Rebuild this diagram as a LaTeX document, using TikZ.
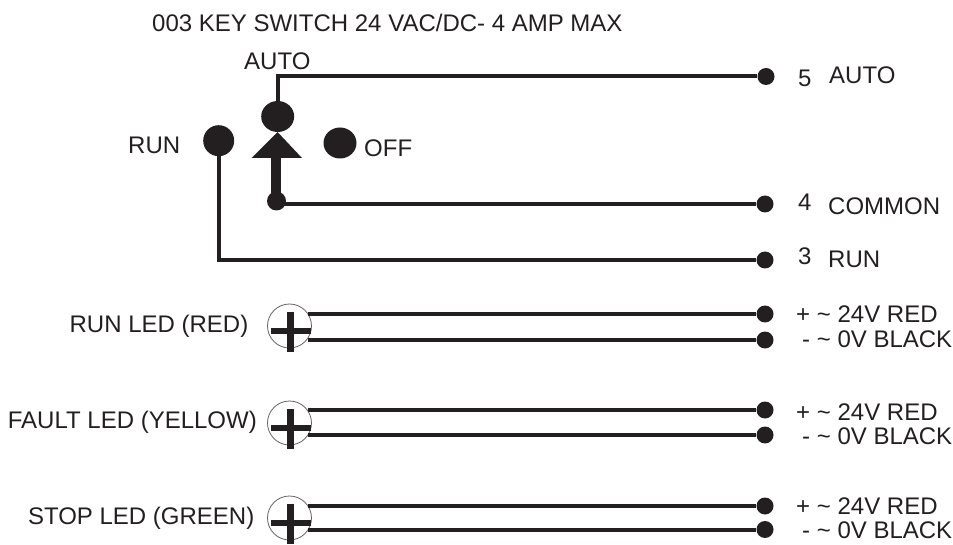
\documentclass[tikz,border=0pt]{standalone}
\usepackage{fontspec}
\setmainfont{Liberation Sans}
\definecolor{ink}{HTML}{231F20}
\newcommand{\tld}{{\char"7E}}
\tikzset{
 wire/.style={draw=ink,line width=4pt},
 lbl/.style={text=ink,font=\fontsize{24}{28}\selectfont,inner sep=0pt,anchor=base west},
 enddot/.style={circle,fill=ink,minimum size=17pt,inner sep=0pt},
 led/.style={circle,draw=ink!70,line width=0.8pt,minimum size=44pt,inner sep=0pt}
}
% id, circle y, top wire y, bottom wire y, label right x, label, label baseline, + baseline, - baseline
\newcommand{\ledrow}[9]{%
 \node[led] (c#1) at (289.5,#2) {};
 \coordinate (a#1) at (308,#3);
 \coordinate (b#1) at (308,#4);
 \node[enddot] (p#1) at (765,#3) {};
 \node[enddot] (m#1) at (765,#4) {};
 \draw[wire] (a#1) -- (p#1);
 \draw[wire] (b#1) -- (m#1);
 \fill[ink] (270.5,#2+1.5) rectangle (310.5,#2+8);
 \fill[ink] (286.5,#2-14) rectangle (293.5,#2+25.5);
 \node[lbl] (t#1) at (796,#8) {+ \tld{} 24V RED};
 \node[lbl] (u#1) at (802,#9) {- \tld{} 0V BLACK};
 \node[lbl,anchor=base east] (n#1) at (#5,#7) {#6};
}
\begin{document}
\begin{tikzpicture}[x=1pt,y=-1pt]
\useasboundingbox (0,0) rectangle (953,545);
\node[lbl] (title) at (152,32) {003 KEY SWITCH 24 VAC/DC- 4 AMP MAX};
\node[lbl] (lauto) at (244,70) {AUTO};
\node[lbl] (lrun) at (128,154) {RUN};
\node[lbl] (loff) at (364,157) {OFF};
\node[lbl] (n5) at (798,87) {5};
\node[lbl] (t5) at (829,84) {AUTO};
\node[lbl] (n4) at (798,211) {4};
\node[lbl] (t4) at (828,215) {COMMON};
\node[lbl] (n3) at (798,265) {3};
\node[lbl] (t3) at (828,268) {RUN};
% switch
\node[enddot] (d5) at (766,76.5) {};
\node[enddot] (d4) at (765,204) {};
\node[enddot] (d3) at (765,260) {};
\coordinate (autoc) at (277.7,116.5);
\coordinate (runc) at (218.7,140.7);
\coordinate (offc) at (340,143);
\coordinate (pivot) at (276.5,201);
\path[fill=ink] (autoc) ellipse (16.5 and 15.5);
\path[fill=ink] (runc) ellipse (15.5 and 15.5);
\path[fill=ink] (offc) ellipse (16.5 and 15.5);
\path[fill=ink] (277.5,132) -- (302,158) -- (251.5,158) -- cycle;
\fill[ink] (271,155) rectangle (280.5,200);
\node[circle,fill=ink,minimum size=19pt,inner sep=0pt] (pv) at (pivot) {};
\draw[wire,line join=miter] (autoc) |- (d5);
\draw[wire] (pv |- d4) -- (d4);
\draw[wire,line join=miter] (runc) |- (d3);
\ledrow{1}{326}{314}{340}{248.5}{RUN LED (RED)}{332}{323}{347.5}
\ledrow{2}{423}{410}{435}{257}{FAULT LED (YELLOW)}{428}{420}{444}
\ledrow{3}{518}{506}{529.5}{254.5}{STOP LED (GREEN)}{524}{514}{538}
\end{tikzpicture}
\end{document}
